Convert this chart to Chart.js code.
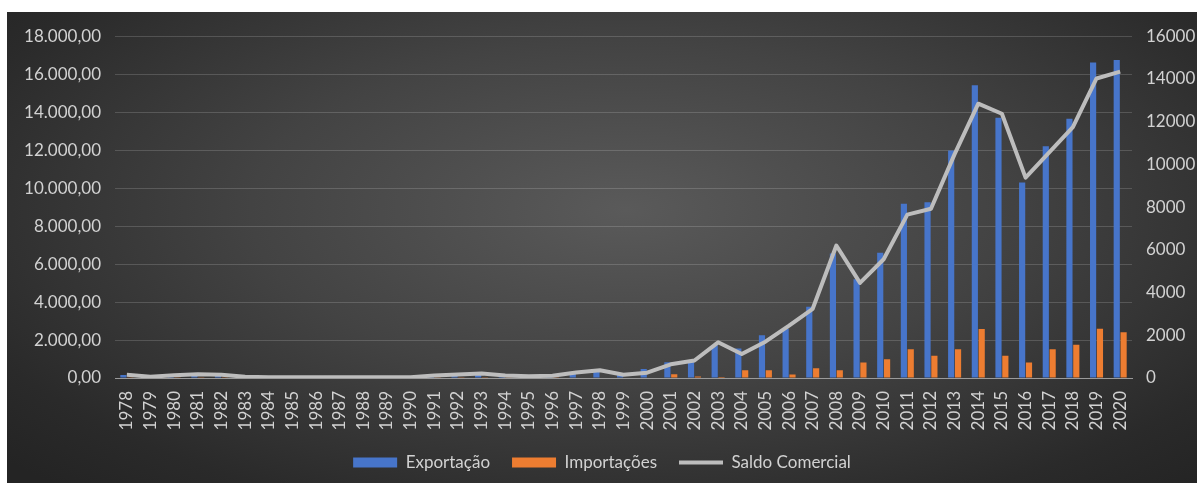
<!DOCTYPE html>
<html>
<head>
<meta charset="utf-8">
<script src="https://cdn.jsdelivr.net/npm/chart.js@4/dist/chart.umd.min.js"></script>
<style>
  html, body { margin: 0; padding: 0; background: #fff; }
  #wrap {
    position: absolute; left: 7px; top: 12px; width: 1190px; height: 471px;
    background: radial-gradient(ellipse 70% 80% at 52% 42%, #5a5a5a 0%, #434343 45%, #2a2a2a 85%, #242424 100%);
  }
</style>
</head>
<body>
<div id="wrap"><canvas id="chart" width="1190" height="471"></canvas></div>
<script>
// anos
const years = [1978, 1979, 1980, 1981, 1982, 1983, 1984, 1985, 1986, 1987, 1988, 1989, 1990,
  1991, 1992, 1993, 1994, 1995, 1996, 1997, 1998, 1999, 2000, 2001, 2002, 2003, 2004, 2005,
  2006, 2007, 2008, 2009, 2010, 2011, 2012, 2013, 2014, 2015, 2016, 2017, 2018, 2019, 2020];

// valores (eixo esquerdo)
const exportacao = [160, 60, 140, 180, 160, 60, 40, 40, 40, 40, 40, 40, 50,
  130, 170, 220, 130, 90, 120, 280, 390, 170, 480, 830, 900, 1720, 1550, 2250,
  2600, 3750, 6550, 5200, 6600, 9170, 9250, 11980, 15420, 13700, 10300, 12200, 13650, 16620, 16750];

const importacoes = [10, 5, 10, 10, 10, 5, 5, 5, 5, 5, 5, 5, 5,
  10, 10, 10, 10, 10, 10, 20, 30, 20, 30, 200, 80, 50, 410, 410,
  190, 510, 410, 810, 990, 1520, 1170, 1520, 2580, 1170, 820, 1520, 1750, 2590, 2410];

// eixo direito
const saldoComercial = [150, 60, 130, 170, 150, 60, 40, 40, 40, 40, 40, 40, 40,
  120, 160, 210, 120, 80, 110, 260, 360, 150, 250, 640, 820, 1670, 1120, 1700,
  2450, 3240, 6200, 4450, 5560, 7650, 7920, 10480, 12840, 12370, 9380, 10560, 11740, 14020, 14340];

const leftTicks = [0, 2000, 4000, 6000, 8000, 10000, 12000, 14000, 16000, 18000];
const rightTicks = [0, 2000, 4000, 6000, 8000, 10000, 12000, 14000, 16000];

const textColor = '#d2d2d2';
const fontFamily = 'Lato, "Open Sans", sans-serif';

function formatBR(v) {
  // 18000 -> 18.000,00
  const s = String(Math.round(v)).replace(/\B(?=(\d{3})+(?!\d))/g, '.');
  return s + ',00';
}

const ctx = document.getElementById('chart').getContext('2d');
new Chart(ctx, {
  type: 'bar',
  data: {
    labels: years.map(String),
    datasets: [
      {
        label: 'Exportação',
        data: exportacao,
        backgroundColor: '#4775CA',
        borderWidth: 0,
        yAxisID: 'y',
        pointStyle: 'rect',
        order: 1,
      },
      {
        label: 'Importações',
        data: importacoes,
        backgroundColor: '#ED7D31',
        borderWidth: 0,
        yAxisID: 'y',
        pointStyle: 'rect',
        order: 1,
      },
      {
        type: 'line',
        label: 'Saldo Comercial',
        data: saldoComercial,
        borderColor: '#bdbdbd',
        backgroundColor: '#bdbdbd',
        borderWidth: 4,
        pointRadius: 0,
        pointStyle: 'line',
        tension: 0,
        borderJoinStyle: 'round',
        yAxisID: 'y1',
        order: 0,
      },
    ],
  },
  options: {
    responsive: false,
    animation: false,
    devicePixelRatio: 1,
    layout: { padding: { top: 22, bottom: 2, left: 0, right: 0 } },
    datasets: {
      bar: { categoryPercentage: 0.58, barPercentage: 0.9 },
    },
    plugins: {
      tooltip: { enabled: false },
      legend: {
        position: 'bottom',
        labels: {
          color: textColor,
          font: { family: fontFamily, size: 17 },
          usePointStyle: true,
          pointStyleWidth: 44,
          boxHeight: 10,
          padding: 22,
          sort: (a, b) => a.datasetIndex - b.datasetIndex,
        },
      },
    },
    scales: {
      x: {
        grid: { display: false, drawTicks: false },
        border: { color: '#9a9a9a', width: 1 },
        ticks: {
          color: textColor,
          font: { family: fontFamily, size: 17 },
          minRotation: 90,
          maxRotation: 90,
          autoSkip: false,
          padding: 13,
        },
        afterFit: (s) => { s.height = 54; },
      },
      y: {
        position: 'left',
        min: 0,
        max: leftTicks[leftTicks.length - 1],
        afterBuildTicks: (s) => { s.ticks = leftTicks.map((v) => ({ value: v })); },
        grid: { color: 'rgba(255,255,255,0.16)', drawTicks: false },
        border: { display: false },
        ticks: {
          color: textColor,
          font: { family: fontFamily, size: 17 },
          padding: 14,
          callback: (v) => formatBR(v),
        },
        afterFit: (s) => { s.width = 108; },
      },
      y1: {
        position: 'right',
        min: 0,
        max: rightTicks[rightTicks.length - 1],
        afterBuildTicks: (s) => { s.ticks = rightTicks.map((v) => ({ value: v })); },
        grid: { display: false, drawTicks: false },
        border: { display: false },
        ticks: {
          color: textColor,
          font: { family: fontFamily, size: 17 },
          padding: 14,
          callback: (v) => String(v),
        },
        afterFit: (s) => { s.width = 65; },
      },
    },
  },
});
</script>
</body>
</html>
